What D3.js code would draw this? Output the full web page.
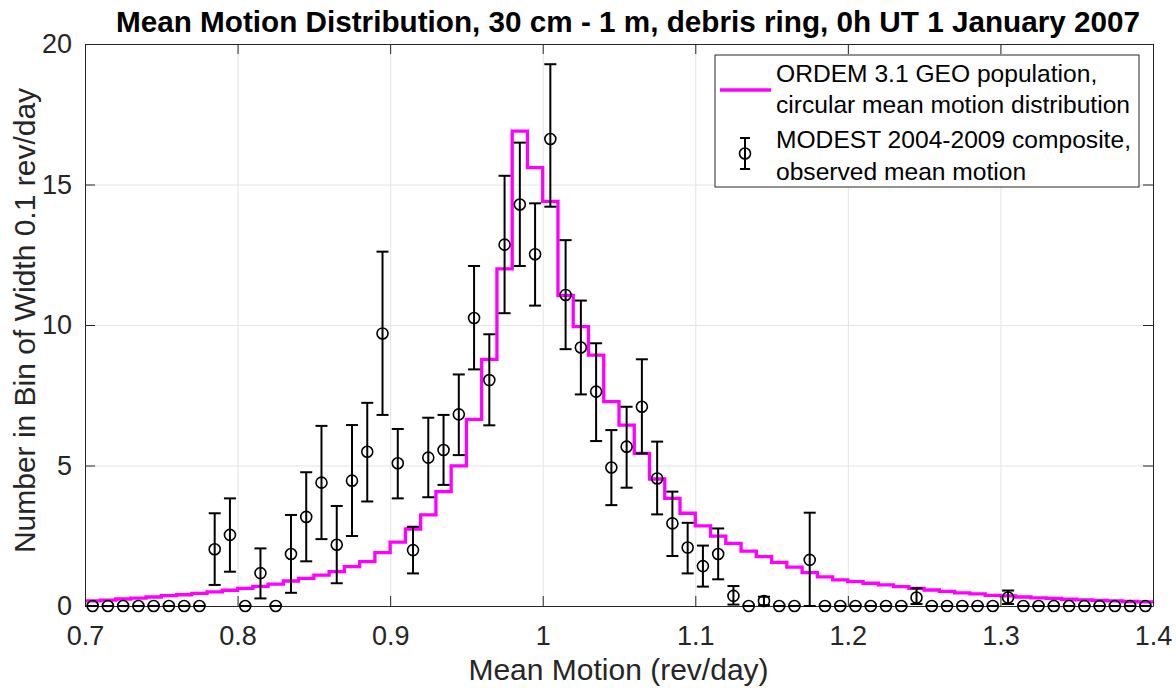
<!DOCTYPE html>
<html>
<head>
<meta charset="utf-8">
<script src="https://cdn.jsdelivr.net/npm/d3@7"></script>
<style>
  body { margin: 0; background: #fff; }
  svg { font-family: "Liberation Sans", Arial, sans-serif; }
  .gridLine line { stroke: #e4e4e4; }
</style>
</head>
<body>
<div id="meanMotionChart"></div>
<script>
// bin centres, width 0.01 rev/day
var binCenters = [
  0.705, 0.715, 0.725, 0.735, 0.745, 0.755, 0.765, 0.775, 0.785, 0.795,
  0.805, 0.815, 0.825, 0.835, 0.845, 0.855, 0.865, 0.875, 0.885, 0.895,
  0.905, 0.915, 0.925, 0.935, 0.945, 0.955, 0.965, 0.975, 0.985, 0.995,
  1.005, 1.015, 1.025, 1.035, 1.045, 1.055, 1.065, 1.075, 1.085, 1.095,
  1.105, 1.115, 1.125, 1.135, 1.145, 1.155, 1.165, 1.175, 1.185, 1.195,
  1.205, 1.215, 1.225, 1.235, 1.245, 1.255, 1.265, 1.275, 1.285, 1.295,
  1.305, 1.315, 1.325, 1.335, 1.345, 1.355, 1.365, 1.375, 1.385, 1.395
];

// ORDEM 3.1 model (stairs)
var ordemValues = [
  0.18, 0.21, 0.25, 0.28, 0.32, 0.37, 0.40, 0.45, 0.50, 0.56,
  0.63, 0.70, 0.78, 0.89, 0.98, 1.10, 1.22, 1.40, 1.58, 1.90,
  2.27, 2.74, 3.24, 4.07, 4.99, 6.64, 8.78, 12.0, 16.9, 15.6,
  14.4, 11.05, 9.94, 8.93, 7.27, 6.44, 5.43, 4.52, 3.83, 3.30,
  2.85, 2.49, 2.23, 1.95, 1.76, 1.55, 1.38, 1.19, 1.04, 0.93,
  0.87, 0.81, 0.75, 0.69, 0.63, 0.57, 0.52, 0.47, 0.43, 0.38,
  0.36, 0.32, 0.29, 0.27, 0.24, 0.22, 0.20, 0.18, 0.16, 0.15
];

// MODEST observed counts and error bar limits
var modestValues = [
  0, 0, 0, 0, 0, 0, 0, 0, 2.02, 2.53,
  0, 1.17, 0, 1.85, 3.17, 4.39, 2.18, 4.46, 5.49, 9.70,
  5.08, 1.99, 5.28, 5.55, 6.82, 10.25, 8.04, 12.86, 14.29, 12.52,
  16.62, 11.07, 9.20, 7.63, 4.93, 5.67, 7.09, 4.54, 2.94, 2.08,
  1.42, 1.85, 0.36, 0, 0.18, 0, 0, 1.64, 0, 0,
  0, 0, 0, 0, 0.30, 0, 0, 0, 0, 0,
  0.30, 0, 0, 0, 0, 0, 0, 0, 0, 0
];
var modestLow = [
  0, 0, 0, 0, 0, 0, 0, 0, 0.75, 1.22,
  0, 0.27, 0, 0.47, 1.59, 2.38, 0.81, 2.49, 3.72, 6.80,
  3.83, 1.16, 3.87, 4.31, 5.37, 8.42, 6.43, 10.42, 12.10, 10.69,
  14.21, 9.14, 7.53, 5.87, 3.59, 4.21, 5.43, 3.26, 1.78, 1.16,
  0.69, 0.95, 0.05, 0, 0.03, 0, 0, 0, 0, 0,
  0, 0, 0, 0, 0.07, 0, 0, 0, 0, 0,
  0.07, 0, 0, 0, 0, 0, 0, 0, 0, 0
];
var modestHigh = [
  0, 0, 0, 0, 0, 0, 0, 0, 3.30, 3.83,
  0, 2.05, 0, 3.24, 4.76, 6.41, 3.56, 6.44, 7.23, 12.61,
  6.30, 2.82, 6.70, 6.80, 8.24, 12.10, 9.67, 15.31, 16.49, 14.33,
  19.28, 13.02, 10.87, 9.35, 6.26, 7.09, 8.78, 5.85, 4.07, 2.96,
  2.15, 2.76, 0.71, 0, 0.33, 0, 0, 3.32, 0, 0,
  0, 0, 0, 0, 0.63, 0, 0, 0, 0, 0,
  0.55, 0, 0, 0, 0, 0, 0, 0, 0, 0
];

var xTicks = [0.7, 0.8, 0.9, 1, 1.1, 1.2, 1.3, 1.4];
var yTicks = [0, 5, 10, 15, 20];
var binWidth = 0.01;

var width = 1176;
var height = 688;
var margin = { top: 44, right: 23, bottom: 82, left: 85 };
var axisColor = "#262626";

var svg = d3.select("#meanMotionChart")
  .append("svg")
  .attr("width", width)
  .attr("height", height);

var xscale = d3.scaleLinear()
  .domain([0.7, 1.4])
  .range([margin.left, width - margin.right]);

var yscale = d3.scaleLinear()
  .domain([0, 20])
  .range([height - margin.bottom, margin.top]);      // reversed

var plotW = width - margin.left - margin.right;
var plotH = height - margin.top - margin.bottom;

// grid lines
svg.append("g")
  .classed("gridLine", true)
  .attr("transform", "translate(0," + (height - margin.bottom) + ")")
  .call(d3.axisBottom(xscale).tickValues(xTicks).tickSize(-plotH).tickFormat(""))
  .call(g => g.select(".domain").remove());

svg.append("g")
  .classed("gridLine", true)
  .attr("transform", "translate(" + margin.left + ",0)")
  .call(d3.axisLeft(yscale).tickValues(yTicks).tickSize(-plotW).tickFormat(""))
  .call(g => g.select(".domain").remove());

// ORDEM stairs
var stairs = binCenters.map((c, i) => ({ x: c - binWidth / 2, y: ordemValues[i] }));
stairs.push({ x: binCenters[binCenters.length - 1] + binWidth / 2, y: ordemValues[ordemValues.length - 1] });

var stepLine = d3.line()
  .x(d => xscale(d.x))
  .y(d => yscale(d.y))
  .curve(d3.curveStepAfter);

svg.append("path")
  .datum(stairs)
  .attr("fill", "none")
  .attr("stroke", "#ff00ff")
  .attr("stroke-width", 3.3)
  .attr("d", stepLine);

// axes (box with inward ticks)
function styleAxis(g) {
  g.select(".domain").attr("stroke", axisColor).attr("stroke-width", 1);
  g.selectAll(".tick line").attr("stroke", axisColor);
  g.selectAll("text").attr("fill", axisColor).style("font-size", "27px");
}

svg.append("g")
  .attr("transform", "translate(0," + (height - margin.bottom) + ")")
  .call(d3.axisBottom(xscale).tickValues(xTicks).tickSize(-10).tickSizeOuter(0)
    .tickPadding(20).tickFormat(d3.format("")))
  .call(styleAxis);

svg.append("g")
  .attr("transform", "translate(0," + margin.top + ")")
  .call(d3.axisTop(xscale).tickValues(xTicks).tickSize(-10).tickSizeOuter(0).tickFormat(""))
  .call(styleAxis);

svg.append("g")
  .attr("transform", "translate(" + margin.left + ",0)")
  .call(d3.axisLeft(yscale).tickValues(yTicks).tickSize(-10).tickSizeOuter(0).tickPadding(13))
  .call(styleAxis);

svg.append("g")
  .attr("transform", "translate(" + (width - margin.right) + ",0)")
  .call(d3.axisRight(yscale).tickValues(yTicks).tickSize(-10).tickSizeOuter(0).tickFormat(""))
  .call(styleAxis);

// MODEST error bars
var modest = binCenters.map((c, i) => ({ x: c, v: modestValues[i], lo: modestLow[i], hi: modestHigh[i] }));
var capW = 6;

var eb = svg.append("g")
  .attr("stroke", "#000")
  .attr("stroke-width", 2)
  .attr("fill", "none")
  .selectAll("g")
  .data(modest)
  .enter()
  .append("g");

eb.append("line")
  .attr("x1", d => xscale(d.x)).attr("x2", d => xscale(d.x))
  .attr("y1", d => yscale(d.lo)).attr("y2", d => yscale(d.hi));
eb.append("line")
  .attr("x1", d => xscale(d.x) - capW).attr("x2", d => xscale(d.x) + capW)
  .attr("y1", d => yscale(d.lo)).attr("y2", d => yscale(d.lo));
eb.append("line")
  .attr("x1", d => xscale(d.x) - capW).attr("x2", d => xscale(d.x) + capW)
  .attr("y1", d => yscale(d.hi)).attr("y2", d => yscale(d.hi));
eb.append("circle")
  .attr("cx", d => xscale(d.x))
  .attr("cy", d => yscale(d.v))
  .attr("r", 5.5)
  .attr("stroke-width", 1.6);

// title and labels
svg.append("text")
  .attr("x", 628)
  .attr("y", 32)
  .attr("text-anchor", "middle")
  .attr("textLength", 1024)
  .attr("lengthAdjust", "spacingAndGlyphs")
  .style("font-family", "'Liberation Sans Narrow', 'Arial Narrow', 'Liberation Sans', sans-serif")
  .style("font-weight", "bold")
  .style("font-size", "29px")
  .attr("fill", "#000")
  .text("Mean Motion Distribution, 30 cm - 1 m, debris ring, 0h UT 1 January 2007");

svg.append("text")
  .attr("x", 618.5)
  .attr("y", 680)
  .attr("text-anchor", "middle")
  .style("font-size", "30px")
  .attr("fill", axisColor)
  .text("Mean Motion (rev/day)");

svg.append("text")
  .attr("transform", "translate(35,320.5) rotate(-90)")
  .attr("text-anchor", "middle")
  .style("font-size", "30px")
  .attr("fill", axisColor)
  .text("Number in Bin of Width 0.1 rev/day");

// legend
var legend = svg.append("g");
legend.append("rect")
  .attr("x", 715).attr("y", 55)
  .attr("width", 424).attr("height", 132)
  .attr("fill", "#fff")
  .attr("stroke", axisColor)
  .attr("stroke-width", 1);

legend.append("line")
  .attr("x1", 720).attr("x2", 771)
  .attr("y1", 90).attr("y2", 90)
  .attr("stroke", "#ff00ff")
  .attr("stroke-width", 3.3);

var lg = legend.append("g").attr("stroke", "#000").attr("stroke-width", 2).attr("fill", "none");
lg.append("line").attr("x1", 745).attr("x2", 745).attr("y1", 138).attr("y2", 169);
lg.append("line").attr("x1", 740).attr("x2", 750).attr("y1", 138).attr("y2", 138);
lg.append("line").attr("x1", 740).attr("x2", 750).attr("y1", 169).attr("y2", 169);
lg.append("circle").attr("cx", 745).attr("cy", 153.5).attr("r", 5.5).attr("stroke-width", 1.6);

var legendLines = [
  "ORDEM 3.1 GEO population,",
  "circular mean motion distribution",
  "MODEST 2004-2009 composite,",
  "observed mean motion"
];
var legendBaselines = [82, 113, 148, 180];
legend.selectAll(".legText")
  .data(legendLines)
  .enter()
  .append("text")
  .attr("class", "legText")
  .attr("x", 776)
  .attr("y", (d, i) => legendBaselines[i])
  .style("font-size", "24.6px")
  .attr("fill", "#000")
  .text(d => d);
</script>
</body>
</html>
